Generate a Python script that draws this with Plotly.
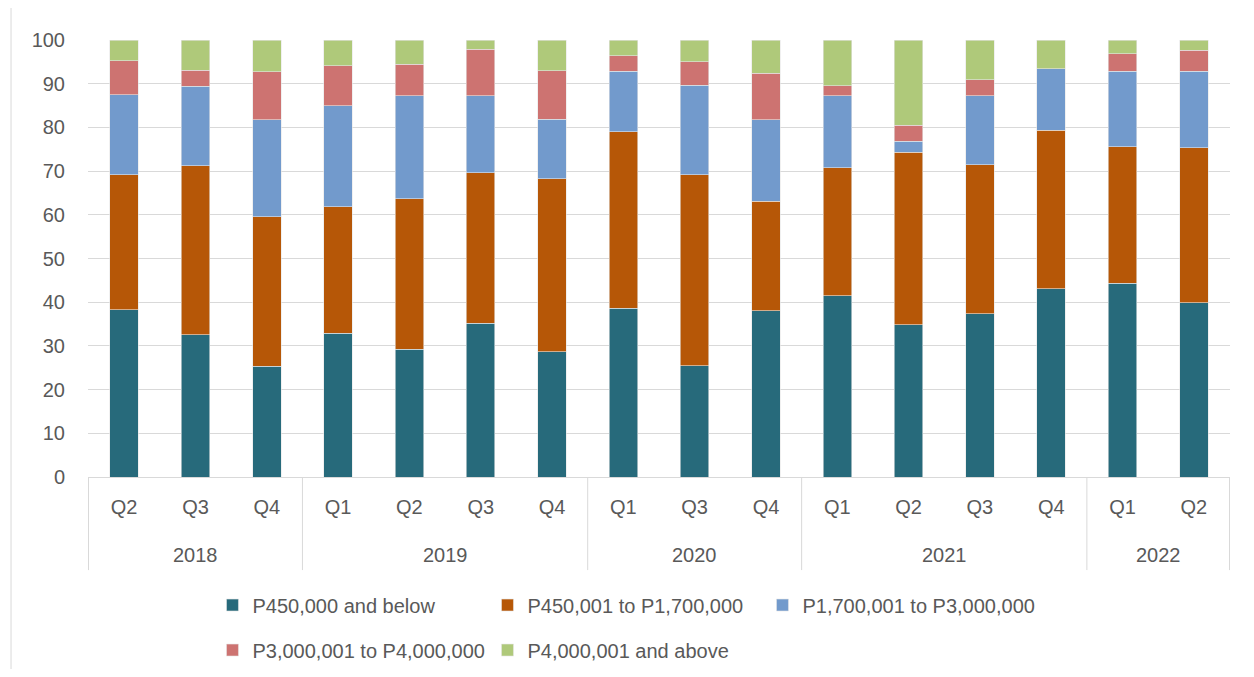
import plotly.graph_objects as go

# ── Data ───────────────────────────────────────────────────────────────────
years = ["2018"] * 3 + ["2019"] * 4 + ["2020"] * 3 + ["2021"] * 4 + ["2022"] * 2
quarters = ["Q2", "Q3", "Q4", "Q1", "Q2", "Q3", "Q4", "Q1", "Q3", "Q4",
            "Q1", "Q2", "Q3", "Q4", "Q1", "Q2"]

below_450k = [38.3, 32.6, 25.3, 32.9, 29.2, 35.2, 28.7, 38.6, 25.5, 38.0,
              41.5, 34.8, 37.4, 43.1, 44.3, 39.9]
p450k_1700k = [30.9, 38.6, 34.2, 28.9, 34.5, 34.4, 39.5, 40.4, 43.7, 25.1,
               29.3, 39.5, 34.1, 36.2, 31.3, 35.4]
p1700k_3m = [18.3, 18.2, 22.2, 23.2, 23.6, 17.6, 13.7, 13.8, 20.5, 18.7,
             16.5, 2.5, 15.8, 14.1, 17.2, 17.5]
p3m_4m = [7.8, 3.7, 11.0, 9.1, 7.2, 10.7, 11.1, 3.6, 5.3, 10.6,
          2.2, 3.7, 3.6, 0.0, 4.1, 4.8]
above_4m = [4.7, 6.9, 7.3, 5.9, 5.5, 2.1, 7.0, 3.6, 5.0, 7.6,
            10.5, 19.5, 9.1, 6.6, 3.1, 2.4]

series = [
    ("P450,000 and below", below_450k, "#276A7B", "legend"),
    ("P450,001 to P1,700,000", p450k_1700k, "#B65707", "legend"),
    ("P1,700,001 to P3,000,000", p1700k_3m, "#729ACC", "legend"),
    ("P3,000,001 to P4,000,000", p3m_4m, "#CD7371", "legend2"),
    ("P4,000,001 and above", above_4m, "#AFC97A", "legend2"),
]

FONT = "Liberation Sans, Arial, sans-serif"
TEXT = "#595959"
GRID = "#D9D9D9"

# unique category keys, shown as quarter labels
x_keys = [f"{y} {q}" for y, q in zip(years, quarters)]

fig = go.Figure()
for name, vals, color, leg in series:
    fig.add_trace(go.Bar(
        x=x_keys, y=vals, name=name,
        marker=dict(color=color, line=dict(color="#E6E6E6", width=0.6)),
        legend=leg,
    ))

# year group labels and dividers
year_order = list(dict.fromkeys(years))
annotations = []
shapes = []
for yr in year_order:
    idx = [i for i, y in enumerate(years) if y == yr]
    annotations.append(dict(
        x=(idx[0] + idx[-1]) / 2, y=-0.178, xref="x", yref="paper",
        text=yr, showarrow=False, yanchor="middle",
        font=dict(family=FONT, size=20, color=TEXT),
    ))
    shapes.append(dict(
        type="line", xref="x", yref="paper",
        x0=idx[0] - 0.5, x1=idx[0] - 0.5, y0=0, y1=-0.213,
        line=dict(color=GRID, width=1),
    ))
shapes.append(dict(
    type="line", xref="x", yref="paper",
    x0=len(years) - 0.5, x1=len(years) - 0.5, y0=0, y1=-0.213,
    line=dict(color=GRID, width=1),
))
# chart area border on the left
shapes.append(dict(
    type="line", xref="paper", yref="paper",
    x0=-0.0674, x1=-0.0674, y0=-0.46, y1=1.1,
    line=dict(color=GRID, width=1),
))

legend_style = dict(
    orientation="h", xanchor="left", yanchor="middle",
    traceorder="normal",
    font=dict(family=FONT, size=20, color=TEXT),
    entrywidth=230, entrywidthmode="pixels",
    bgcolor="rgba(0,0,0,0)",
)

fig.update_layout(
    barmode="stack",
    bargap=0.6,
    width=1238, height=661,
    margin=dict(l=80, r=16, t=32, b=192, autoexpand=False),
    plot_bgcolor="white",
    paper_bgcolor="white",
    font=dict(family=FONT, size=20, color=TEXT),
    legend=dict(x=0.109, y=-0.293, **legend_style),
    legend2=dict(x=0.109, y=-0.396, **legend_style),
    xaxis=dict(
        type="category",
        tickvals=x_keys, ticktext=quarters,
        showline=True, linecolor=GRID, linewidth=1,
        showgrid=False, ticks="",
        tickfont=dict(family=FONT, size=20, color=TEXT),
        ticklabelstandoff=12,
        automargin=False,
    ),
    yaxis=dict(
        range=[0, 100], dtick=10,
        showgrid=True, gridcolor=GRID, gridwidth=1,
        zeroline=False, showline=False,
        tickfont=dict(family=FONT, size=20, color=TEXT),
        ticklabelstandoff=22,
        automargin=False,
    ),
    annotations=annotations,
    shapes=shapes,
)

fig.write_html("out.html")
